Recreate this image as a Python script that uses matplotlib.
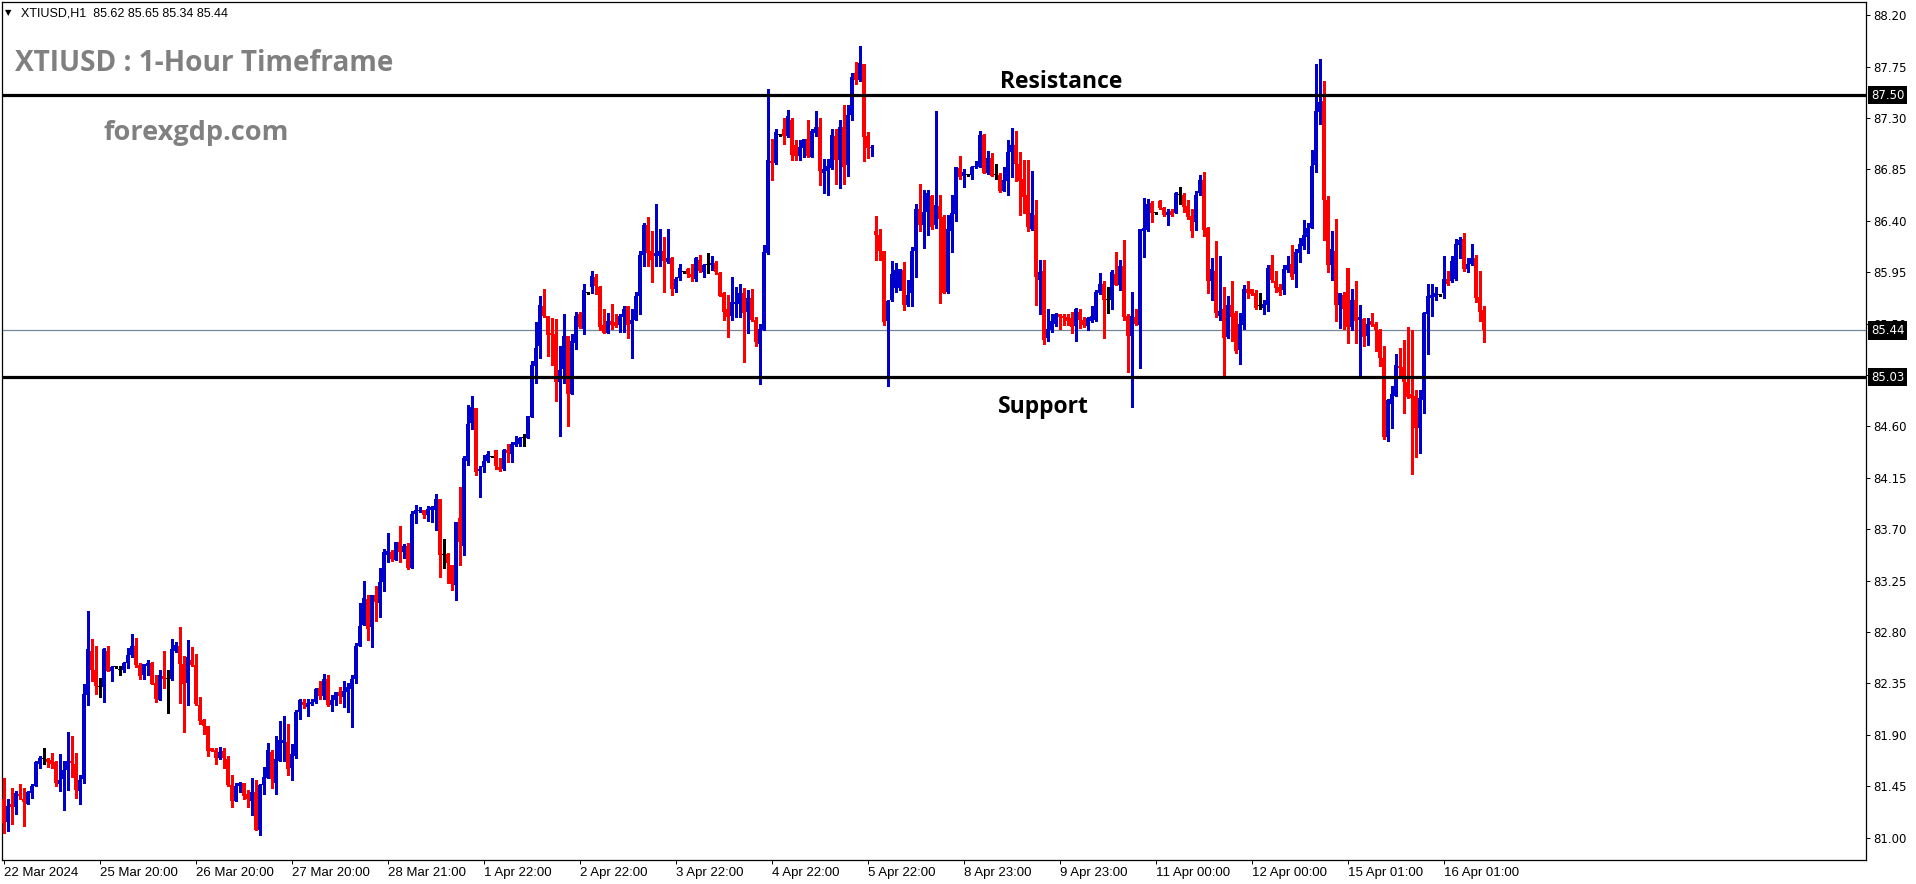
import matplotlib
matplotlib.use('Agg')
import matplotlib.pyplot as plt
import matplotlib.transforms as mtransforms
import numpy as np

# ---------------- data (XTIUSD H1 candles) ----------------
open_ = [
    81.34, 81.14, 81.29, 81.27, 81.38, 81.34, 81.29, 81.39, 81.45, 81.64,
    81.69, 81.69, 81.68, 81.66, 81.47, 81.51, 81.59, 81.67, 81.64, 81.41,
    81.51, 82.25, 82.63, 82.47, 82.32, 82.32, 82.63, 82.46, 82.49, 82.47,
    82.47, 82.53, 82.60, 82.68, 82.51, 82.42, 82.50, 82.53, 82.35, 82.20,
    82.41, 82.39, 82.39, 82.63, 82.68, 82.52, 82.35, 82.55, 82.51, 82.16,
    82.03, 81.98, 81.78, 81.77, 81.70, 81.76, 81.69, 81.46, 81.32, 81.45,
    81.48, 81.38, 81.32, 81.40, 81.07, 81.46, 81.52, 81.75, 81.48, 81.67,
    81.83, 81.84, 81.61, 81.71, 82.10, 82.19, 82.14, 82.17, 82.19, 82.31,
    82.24, 82.39, 82.16, 82.20, 82.27, 82.23, 82.27, 82.30, 82.39, 82.68,
    82.86, 83.09, 82.84, 83.12, 83.05, 83.24, 83.47, 83.50, 83.43, 83.59,
    83.50, 83.55, 83.36, 83.83, 83.86, 83.87, 83.82, 83.87, 83.87, 83.96,
    83.47, 83.48, 83.39, 83.21, 83.80, 83.55, 84.30, 84.63, 84.76, 84.21,
    84.24, 84.30, 84.33, 84.39, 84.24, 84.23, 84.39, 84.36, 84.44, 84.45,
    84.50, 84.50, 84.68, 85.13, 85.30, 85.65, 85.57, 85.42, 85.41, 84.99,
    85.10, 85.39, 84.88, 85.33, 85.58, 85.45, 85.77, 85.82, 85.91, 85.82,
    85.49, 85.42, 85.52, 85.51, 85.49, 85.56, 85.65, 85.50, 85.53, 85.74,
    86.10, 86.36, 86.14, 86.09, 86.09, 86.14, 86.04, 86.07, 85.80, 85.90,
    85.95, 85.98, 85.93, 85.89, 86.06, 85.95, 86.01, 86.01, 86.03, 85.94,
    85.77, 85.63, 85.57, 85.67, 85.67, 85.77, 85.60, 85.72, 85.53, 85.32,
    85.44, 86.12, 86.92, 86.91, 87.15, 87.20, 87.14, 87.28, 87.06, 86.97,
    87.04, 87.12, 86.96, 87.17, 87.22, 86.82, 86.84, 86.86, 87.14, 86.93,
    87.22, 86.89, 87.33, 87.69, 87.63, 87.77, 87.14, 87.04, 86.31, 86.28,
    86.14, 85.52, 85.71, 85.81, 85.81, 85.97, 85.66, 85.77, 86.14, 86.50,
    86.36, 86.48, 86.62, 86.36, 86.53, 86.43, 85.78, 86.31, 86.46, 86.86,
    86.79, 86.80, 86.80, 86.87, 86.87, 87.15, 86.82, 86.95, 86.80, 86.80,
    86.66, 86.75, 87.00, 87.06, 86.90, 86.77, 86.63, 86.33, 86.45, 85.88,
    85.96, 85.37, 85.44, 85.50, 85.58, 85.57, 85.56, 85.55, 85.48, 85.60,
    85.53, 85.48, 85.52, 85.53, 85.77, 85.85, 85.71, 85.71, 85.93, 85.84,
    86.00, 85.57, 85.39, 85.56, 85.49, 86.31, 86.32, 86.56, 86.47, 86.57,
    86.51, 86.45, 86.49, 86.47, 86.63, 86.63, 86.53, 86.44, 86.39, 86.64,
    86.76, 86.34, 85.87, 85.96, 85.57, 85.63, 85.38, 85.66, 85.59, 85.27,
    85.49, 85.80, 85.80, 85.77, 85.65, 85.64, 85.66, 86.01, 85.87, 85.82,
    85.79, 85.97, 86.02, 85.93, 86.12, 86.18, 86.26, 86.34, 86.89, 87.35,
    87.45, 86.58, 86.01, 86.14, 85.66, 85.75, 85.99, 85.47, 85.71, 85.53,
    85.54, 85.39, 85.52, 85.50, 85.44, 85.20, 84.51, 84.80, 84.87, 85.13,
    85.12, 84.99, 84.88, 84.87, 84.59, 84.83, 85.58, 85.72, 85.73, 85.75,
    85.77, 85.89, 85.87, 85.89, 86.19, 86.24, 85.98, 86.02, 86.07, 85.73,
    85.62,
]
high = [
    81.52, 81.34, 81.43, 81.41, 81.47, 81.43, 81.41, 81.47, 81.67, 81.71,
    81.78, 81.70, 81.74, 81.67, 81.73, 81.67, 81.92, 81.89, 81.74, 81.55,
    82.34, 82.98, 82.74, 82.68, 82.40, 82.66, 82.68, 82.50, 82.50, 82.50,
    82.54, 82.66, 82.78, 82.75, 82.53, 82.52, 82.55, 82.54, 82.42, 82.47,
    82.63, 82.47, 82.74, 82.71, 82.84, 82.59, 82.73, 82.67, 82.61, 82.23,
    82.04, 81.98, 81.78, 81.78, 81.79, 81.78, 81.71, 81.55, 81.48, 81.49,
    81.48, 81.42, 81.52, 81.50, 81.47, 81.62, 81.83, 81.77, 81.89, 82.02,
    82.06, 81.99, 81.82, 82.12, 82.21, 82.21, 82.21, 82.21, 82.31, 82.37,
    82.43, 82.42, 82.25, 82.27, 82.32, 82.37, 82.35, 82.42, 82.70, 83.05,
    83.25, 83.12, 83.12, 83.20, 83.36, 83.53, 83.67, 83.52, 83.59, 83.73,
    83.57, 83.58, 83.86, 83.91, 83.89, 83.87, 83.90, 83.90, 84.01, 83.96,
    83.61, 83.49, 83.39, 83.76, 84.07, 84.34, 84.79, 84.87, 84.76, 84.25,
    84.35, 84.38, 84.34, 84.39, 84.32, 84.40, 84.45, 84.46, 84.52, 84.51,
    84.53, 84.69, 85.17, 85.51, 85.74, 85.80, 85.57, 85.55, 85.54, 85.30,
    85.58, 85.39, 85.41, 85.60, 85.60, 85.85, 85.77, 85.96, 85.93, 85.83,
    85.63, 85.59, 85.67, 85.58, 85.58, 85.65, 85.65, 85.63, 85.78, 86.14,
    86.38, 86.43, 86.31, 86.55, 86.33, 86.26, 86.33, 86.08, 85.91, 86.02,
    85.96, 85.99, 86.02, 86.08, 86.10, 86.02, 86.12, 86.09, 86.05, 85.95,
    85.78, 85.75, 85.91, 85.82, 85.85, 85.81, 85.79, 85.80, 85.56, 85.50,
    86.19, 87.55, 87.12, 87.20, 87.16, 87.30, 87.37, 87.30, 87.11, 87.11,
    87.12, 87.28, 87.20, 87.36, 87.30, 86.94, 86.94, 87.20, 87.20, 87.28,
    87.41, 87.41, 87.69, 87.79, 87.93, 87.77, 87.18, 87.06, 86.44, 86.33,
    86.14, 85.71, 86.05, 86.03, 85.98, 86.04, 85.88, 86.17, 86.55, 86.72,
    86.67, 86.67, 86.63, 87.36, 86.63, 86.45, 86.45, 86.63, 86.87, 86.97,
    86.85, 86.81, 86.88, 86.92, 87.19, 87.16, 87.01, 86.99, 86.90, 86.82,
    86.87, 87.11, 87.21, 87.19, 87.00, 86.93, 86.93, 86.84, 86.58, 86.06,
    86.06, 85.63, 85.58, 85.59, 85.58, 85.58, 85.58, 85.60, 85.64, 85.63,
    85.56, 85.56, 85.65, 85.79, 85.94, 85.87, 85.82, 85.97, 86.13, 86.06,
    86.23, 85.58, 85.78, 85.63, 86.33, 86.60, 86.59, 86.57, 86.48, 86.58,
    86.52, 86.50, 86.50, 86.65, 86.70, 86.64, 86.58, 86.50, 86.66, 86.80,
    86.83, 86.35, 86.07, 86.22, 86.09, 85.82, 85.74, 85.87, 85.61, 85.59,
    85.84, 85.87, 85.80, 85.79, 85.77, 85.71, 86.01, 86.10, 85.96, 85.85,
    86.01, 86.09, 86.19, 86.15, 86.25, 86.41, 86.38, 87.02, 87.77, 87.82,
    87.62, 86.62, 86.31, 86.42, 85.77, 85.78, 85.99, 85.80, 85.87, 85.66,
    85.55, 85.55, 85.59, 85.51, 85.45, 85.30, 84.84, 84.95, 85.23, 85.29,
    85.36, 85.47, 85.44, 84.92, 84.92, 85.60, 85.85, 85.85, 85.82, 85.76,
    86.09, 85.96, 86.09, 86.24, 86.26, 86.29, 86.07, 86.20, 86.10, 85.96,
    85.65,
]
low = [
    81.04, 81.06, 81.12, 81.21, 81.34, 81.10, 81.29, 81.35, 81.45, 81.61,
    81.64, 81.62, 81.61, 81.45, 81.41, 81.24, 81.42, 81.53, 81.35, 81.29,
    81.48, 82.16, 82.37, 82.26, 82.23, 82.19, 82.46, 82.37, 82.48, 82.42,
    82.45, 82.48, 82.58, 82.49, 82.39, 82.39, 82.42, 82.34, 82.19, 82.20,
    82.31, 82.09, 82.38, 82.62, 82.18, 81.92, 82.16, 82.50, 82.16, 81.99,
    81.91, 81.71, 81.76, 81.64, 81.69, 81.61, 81.45, 81.27, 81.32, 81.40,
    81.34, 81.27, 81.20, 81.07, 81.02, 81.38, 81.52, 81.43, 81.38, 81.67,
    81.67, 81.55, 81.50, 81.70, 82.04, 82.13, 82.06, 82.16, 82.18, 82.21,
    82.21, 82.15, 82.11, 82.16, 82.18, 82.14, 82.10, 81.97, 82.35, 82.68,
    82.86, 82.73, 82.67, 82.90, 82.93, 83.16, 83.41, 83.42, 83.43, 83.41,
    83.45, 83.35, 83.36, 83.75, 83.85, 83.80, 83.77, 83.76, 83.69, 83.28,
    83.36, 83.23, 83.17, 83.08, 83.39, 83.47, 84.26, 84.58, 84.17, 83.98,
    84.20, 84.29, 84.33, 84.23, 84.21, 84.22, 84.29, 84.29, 84.43, 84.43,
    84.43, 84.50, 84.68, 84.98, 85.20, 85.56, 85.22, 85.14, 84.82, 84.52,
    84.98, 84.60, 84.88, 85.28, 85.46, 85.41, 85.76, 85.77, 85.76, 85.44,
    85.42, 85.42, 85.45, 85.47, 85.43, 85.43, 85.37, 85.20, 85.53, 85.58,
    86.00, 86.00, 85.86, 86.00, 86.00, 85.78, 86.03, 85.75, 85.78, 85.88,
    85.94, 85.91, 85.87, 85.87, 85.95, 85.91, 85.94, 85.97, 85.93, 85.74,
    85.53, 85.38, 85.53, 85.56, 85.56, 85.16, 85.42, 85.52, 85.30, 84.97,
    85.44, 86.11, 86.76, 86.90, 87.14, 87.07, 87.13, 86.93, 86.93, 86.93,
    86.96, 86.96, 86.96, 87.14, 86.71, 86.64, 86.63, 86.85, 86.72, 86.69,
    86.72, 86.79, 87.28, 87.60, 87.62, 86.92, 86.95, 86.97, 86.06, 86.06,
    85.49, 84.95, 85.70, 85.78, 85.79, 85.62, 85.65, 85.65, 85.91, 86.31,
    86.16, 86.28, 86.33, 86.34, 85.68, 85.77, 85.77, 86.13, 86.40, 86.77,
    86.70, 86.79, 86.77, 86.86, 86.87, 86.82, 86.81, 86.79, 86.77, 86.65,
    86.66, 86.63, 86.78, 86.75, 86.45, 86.47, 86.31, 86.32, 85.66, 85.58,
    85.32, 85.35, 85.43, 85.48, 85.45, 85.49, 85.49, 85.42, 85.35, 85.46,
    85.47, 85.44, 85.51, 85.52, 85.76, 85.37, 85.59, 85.63, 85.84, 85.79,
    85.53, 85.08, 84.77, 85.49, 85.11, 86.08, 86.31, 86.39, 86.46, 86.50,
    86.44, 86.36, 86.44, 86.47, 86.55, 86.48, 86.42, 86.26, 86.32, 86.63,
    86.27, 85.77, 85.71, 85.56, 85.53, 85.04, 85.37, 85.35, 85.24, 85.15,
    85.45, 85.72, 85.75, 85.63, 85.63, 85.58, 85.61, 85.86, 85.78, 85.75,
    85.76, 85.95, 85.89, 85.82, 86.04, 86.15, 86.12, 86.34, 86.83, 87.25,
    86.23, 85.95, 85.88, 85.52, 85.46, 85.45, 85.33, 85.44, 85.33, 85.04,
    85.30, 85.31, 85.48, 85.26, 85.13, 84.49, 84.47, 84.59, 84.87, 85.03,
    84.72, 84.85, 84.18, 84.33, 84.37, 84.72, 85.23, 85.57, 85.71, 85.74,
    85.72, 85.84, 85.86, 85.88, 86.07, 85.96, 85.95, 86.01, 85.69, 85.52,
    85.34,
]
close = [
    81.13, 81.28, 81.27, 81.39, 81.36, 81.31, 81.40, 81.45, 81.66, 81.70,
    81.69, 81.66, 81.64, 81.48, 81.50, 81.59, 81.67, 81.65, 81.42, 81.50,
    82.26, 82.65, 82.47, 82.33, 82.32, 82.65, 82.46, 82.49, 82.49, 82.47,
    82.53, 82.60, 82.68, 82.51, 82.41, 82.52, 82.53, 82.34, 82.21, 82.42,
    82.39, 82.39, 82.65, 82.69, 82.52, 82.34, 82.58, 82.51, 82.17, 82.02,
    81.98, 81.76, 81.76, 81.70, 81.75, 81.70, 81.46, 81.32, 81.45, 81.48,
    81.36, 81.34, 81.40, 81.07, 81.46, 81.53, 81.77, 81.51, 81.69, 81.85,
    81.85, 81.60, 81.73, 82.10, 82.20, 82.16, 82.18, 82.19, 82.30, 82.24,
    82.39, 82.16, 82.20, 82.27, 82.24, 82.28, 82.32, 82.39, 82.68, 82.85,
    83.10, 82.83, 83.12, 83.06, 83.24, 83.50, 83.51, 83.44, 83.59, 83.50,
    83.55, 83.36, 83.83, 83.87, 83.87, 83.82, 83.88, 83.89, 83.96, 83.47,
    83.47, 83.40, 83.22, 83.76, 83.59, 84.32, 84.62, 84.77, 84.20, 84.23,
    84.30, 84.36, 84.33, 84.25, 84.22, 84.39, 84.37, 84.45, 84.46, 84.50,
    84.50, 84.69, 85.14, 85.29, 85.66, 85.57, 85.40, 85.40, 84.99, 85.09,
    85.39, 84.88, 85.35, 85.57, 85.47, 85.79, 85.77, 85.92, 85.83, 85.47,
    85.42, 85.52, 85.49, 85.48, 85.57, 85.63, 85.49, 85.53, 85.74, 86.10,
    86.36, 86.12, 86.06, 86.12, 86.14, 86.05, 86.07, 85.80, 85.89, 85.99,
    85.95, 85.93, 85.91, 86.07, 85.96, 86.01, 86.01, 86.03, 85.95, 85.74,
    85.60, 85.56, 85.69, 85.69, 85.77, 85.59, 85.72, 85.53, 85.34, 85.45,
    86.13, 86.93, 86.91, 87.18, 87.15, 87.14, 87.32, 86.98, 86.97, 87.05,
    87.12, 86.97, 87.19, 87.22, 86.84, 86.85, 86.88, 87.15, 86.93, 87.22,
    86.87, 87.33, 87.66, 87.63, 87.78, 87.13, 87.04, 87.05, 86.28, 86.14,
    85.51, 85.70, 85.93, 85.97, 85.98, 85.66, 85.75, 86.14, 86.50, 86.36,
    86.48, 86.64, 86.35, 86.54, 86.42, 85.77, 86.33, 86.47, 86.87, 86.78,
    86.83, 86.80, 86.87, 86.88, 87.15, 86.82, 86.95, 86.79, 86.80, 86.66,
    86.76, 87.00, 87.06, 86.90, 86.75, 86.61, 86.35, 86.47, 85.91, 85.95,
    85.36, 85.45, 85.52, 85.58, 85.56, 85.55, 85.52, 85.47, 85.63, 85.53,
    85.49, 85.55, 85.57, 85.78, 85.85, 85.71, 85.71, 85.95, 85.84, 86.00,
    85.56, 85.39, 85.57, 85.50, 86.33, 86.34, 86.55, 86.47, 86.47, 86.51,
    86.45, 86.48, 86.45, 86.64, 86.63, 86.52, 86.43, 86.31, 86.63, 86.76,
    86.32, 85.87, 85.98, 85.59, 85.61, 85.37, 85.66, 85.56, 85.26, 85.50,
    85.80, 85.77, 85.76, 85.64, 85.65, 85.67, 85.99, 85.88, 85.81, 85.78,
    85.98, 86.01, 85.91, 86.13, 86.20, 86.28, 86.34, 86.88, 87.36, 87.44,
    86.58, 86.01, 86.15, 85.66, 85.77, 85.63, 85.47, 85.71, 85.52, 85.56,
    85.38, 85.50, 85.49, 85.44, 85.20, 84.51, 84.83, 84.88, 85.14, 85.11,
    84.99, 84.86, 84.85, 84.59, 84.85, 85.59, 85.74, 85.75, 85.77, 85.75,
    85.89, 85.85, 86.05, 86.20, 86.23, 85.98, 86.02, 86.07, 85.72, 85.60,
    85.44,
]

x_tick_labels = ['22 Mar 2024', '25 Mar 20:00', '26 Mar 20:00', '27 Mar 20:00',
                 '28 Mar 21:00', '1 Apr 22:00', '2 Apr 22:00', '3 Apr 22:00',
                 '4 Apr 22:00', '5 Apr 22:00', '8 Apr 23:00', '9 Apr 23:00',
                 '11 Apr 00:00', '12 Apr 00:00', '15 Apr 01:00', '16 Apr 01:00']
x_tick_bars = [0, 24, 48, 72, 96, 120, 144, 168, 192, 216, 240, 264, 288, 312, 336, 360]
y_ticks = [88.20, 87.75, 87.30, 86.85, 86.40, 85.95, 85.50, 85.05, 84.60,
           84.15, 83.70, 83.25, 82.80, 82.35, 81.90, 81.45, 81.00]

resistance_level = 87.50
support_level = 85.03
symbol = 'XTIUSD,H1'
title_text = 'XTIUSD : 1-Hour Timeframe'
site_text = 'forexgdp.com'

# ---------------- figure ----------------
W, H = 1916, 884
fig = plt.figure(figsize=(W / 100, H / 100), dpi=100)
fig.patch.set_facecolor('white')
ax_l, ax_r, ax_t, ax_b = 2, 1866, 2, 860
ax = fig.add_axes([ax_l / W, 1 - ax_b / H, (ax_r - ax_l) / W, (ax_b - ax_t) / H])
ax.set_facecolor('white')

o = np.array(open_)
h = np.array(high)
l = np.array(low)
c = np.array(close)
x = np.arange(len(o))

BLUE = '#0000CD'
RED = '#FF0000'
colors = np.where(c > o, BLUE, np.where(c < o, RED, 'black'))

ax.vlines(x, l, h, colors=colors, linewidth=1.0, zorder=3, antialiased=False)
body_bottom = np.minimum(o, c)
body_height = np.maximum(np.abs(c - o), 0.009)
ax.bar(x, body_height, bottom=body_bottom, width=0.76, color=colors,
       linewidth=0, zorder=4, antialiased=False)

# horizontal levels
last_price = close[-1]
ax.axhline(last_price, color='#778899', linewidth=0.9, zorder=2)
ax.axhline(resistance_level, color='black', linewidth=2.3, zorder=5)
ax.axhline(support_level, color='black', linewidth=2.3, zorder=5)

ax.set_xlim(-0.5, 465.5)
ax.set_ylim(80.803, 88.316)

# axes / ticks
for s in ax.spines.values():
    s.set_color('black')
    s.set_linewidth(0.9)
ax.yaxis.tick_right()
ax.set_yticks(y_ticks)
ax.set_yticklabels([f'{v:.2f}' for v in y_ticks], fontsize=8.5,
                   fontfamily='DejaVu Sans')
ax.set_xticks(x_tick_bars)
ax.set_xticklabels(x_tick_labels, fontsize=9.5, fontfamily='Liberation Sans',
                   ha='left')
ax.tick_params(axis='y', direction='out', length=3, width=0.7, pad=2)
ax.tick_params(axis='x', direction='out', length=3, width=0.7, pad=2)

# price boxes on the right axis
btrans = mtransforms.blended_transform_factory(ax.transAxes, ax.transData)
for lvl in [resistance_level, last_price, support_level]:
    ax.text(1 + 5 / (ax_r - ax_l), lvl, f'{lvl:.2f}', transform=btrans,
            ha='left', va='center', color='white', fontsize=8.5,
            fontfamily='DejaVu Sans', clip_on=False, zorder=10,
            bbox=dict(boxstyle='square,pad=0.22', fc='black', ec='none'))

# annotations
ax.text(264.25, 87.56, 'Resistance', ha='center', va='baseline',
        fontsize=16.5, fontweight='bold', fontfamily='Open Sans',
        color='black', zorder=6)
ax.text(259.75, 84.72, 'Support', ha='center', va='baseline',
        fontsize=16.5, fontweight='bold', fontfamily='Open Sans',
        color='black', zorder=6)

# header & titles
fig.text(5 / W, 1 - 13 / H, '\u25BC', fontsize=6, va='center', ha='left',
         fontfamily='DejaVu Sans', color='black')
fig.text(21 / W, 1 - 13 / H,
         f'{symbol}  {open_[-1]:.2f} {high[-1]:.2f} {low[-1]:.2f} {close[-1]:.2f}',
         fontsize=9, va='center', ha='left', fontfamily='Liberation Sans',
         color='black')
fig.text(15 / W, 1 - 71 / H, title_text, fontsize=20.2, fontweight='bold',
         fontfamily='Open Sans', color='#808080', va='baseline', ha='left')
fig.text(103 / W, 1 - 140 / H, site_text, fontsize=19.5, fontweight='bold',
         fontfamily='Open Sans', color='#808080', va='baseline', ha='left')

fig.savefig('out.png', dpi=100, facecolor='white')
